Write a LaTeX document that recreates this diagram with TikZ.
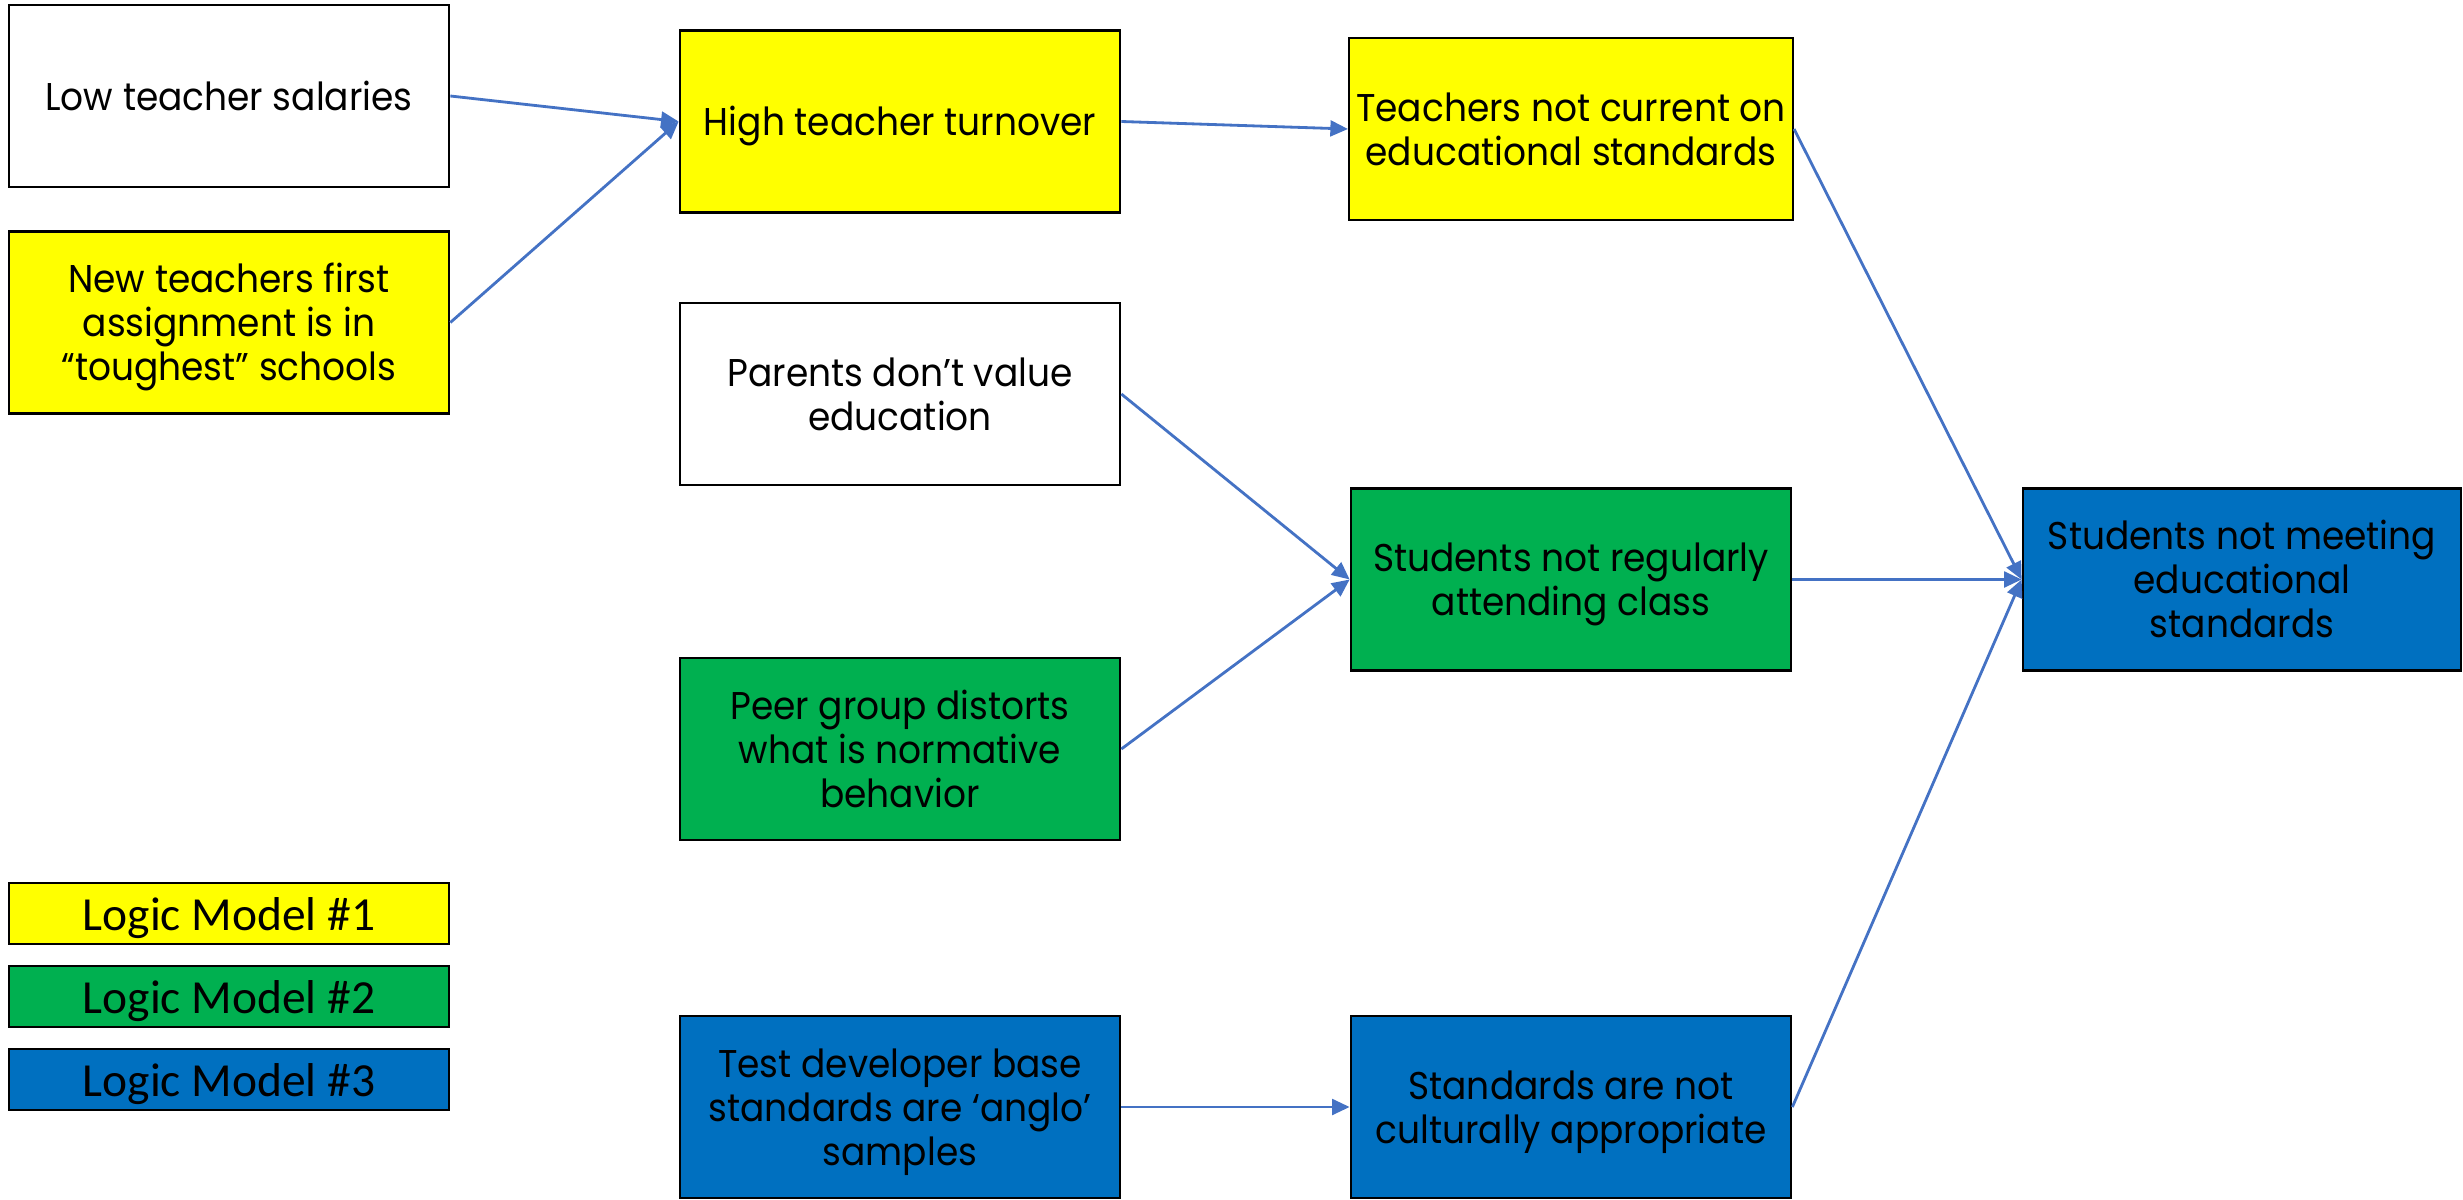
\documentclass[tikz,border=0pt]{standalone}
\usepackage{fontspec}
\setmainfont{Poppins}[FakeStretch=0.93]
\newfontfamily\legendfont{Carlito}
\usetikzlibrary{arrows.meta}
\definecolor{cyel}{HTML}{FFFF00}
\definecolor{cgrn}{HTML}{00B050}
\definecolor{cblu}{HTML}{0070C0}
\definecolor{carr}{HTML}{4472C4}
\begin{document}
\begin{tikzpicture}[x=0.01cm,y=-0.01cm,
  box/.style={draw=black, line width=0.7pt, minimum width=4.4cm, minimum height=1.82cm, align=center, inner sep=2pt, font=\fontsize{11}{12.5}\selectfont,
    execute at begin node={\rule[-3pt]{0pt}{#1}}},
  box/.default=14.2pt,
  legendbox/.style={draw=black, line width=0.7pt, minimum width=4.4cm, minimum height=0.61cm, inner sep=0pt, text height=11pt, text depth=1.5pt, font=\legendfont\fontsize{13.5}{15}\selectfont},
  arr/.style={draw=carr, line width=0.8pt, -{Triangle[length=5pt,width=4.5pt]}}]
\useasboundingbox (0,0) rectangle (2463,1200);
% column 1
\node[box, fill=white] (low) at (229,96) {Low teacher salaries};
\node[box=39.2pt, fill=cyel] (new) at (229,322.5) {New teachers first\\assignment is in\\“toughest” schools};
% column 2
\node[box, fill=cyel] (high) at (900,121.5) {High teacher turnover};
\node[box=26.7pt, fill=white] (parents) at (900,394) {Parents don’t value\\education};
\node[box=39.2pt, fill=cgrn] (peer) at (900,749) {Peer group distorts\\what is normative\\behavior};
\node[box=39.2pt, fill=cblu] (test) at (900,1107) {Test developer base\\standards are ‘anglo’\\samples};
% column 3
\node[box=26.7pt, fill=cyel] (tnc) at (1571,129) {Teachers not current on\\educational standards};
\node[box=26.7pt, fill=cgrn] (sreg) at (1571,579.5) {Students not regularly\\attending class};
\node[box=26.7pt, fill=cblu] (stand) at (1571,1107) {Standards are not\\culturally appropriate};
% column 4
\node[box=39.2pt, fill=cblu, minimum width=4.38cm] (smeet) at (2242,579.5) {Students not meeting\\educational\\standards};
% legend
\node[legendbox, fill=cyel] (lm1) at (229,913.5) {Logic Model \#1};
\node[legendbox, fill=cgrn] (lm2) at (229,996.5) {Logic Model \#2};
\node[legendbox, fill=cblu] (lm3) at (229,1079.5) {Logic Model \#3};
% connectors
\draw[arr] (low.east) -- (high.west);
\draw[arr] (new.east) -- (high.west);
\draw[arr] (high.east) -- (tnc.west);
\draw[arr] (tnc.east) -- (smeet.west);
\draw[arr] (parents.east) -- (sreg.west);
\draw[arr] (peer.east) -- (sreg.west);
\draw[arr] (sreg.east) -- (smeet.west);
\draw[arr] (stand.east) -- (smeet.west);
\draw[arr] (test.east) -- (stand.west);
\end{tikzpicture}
\end{document}
